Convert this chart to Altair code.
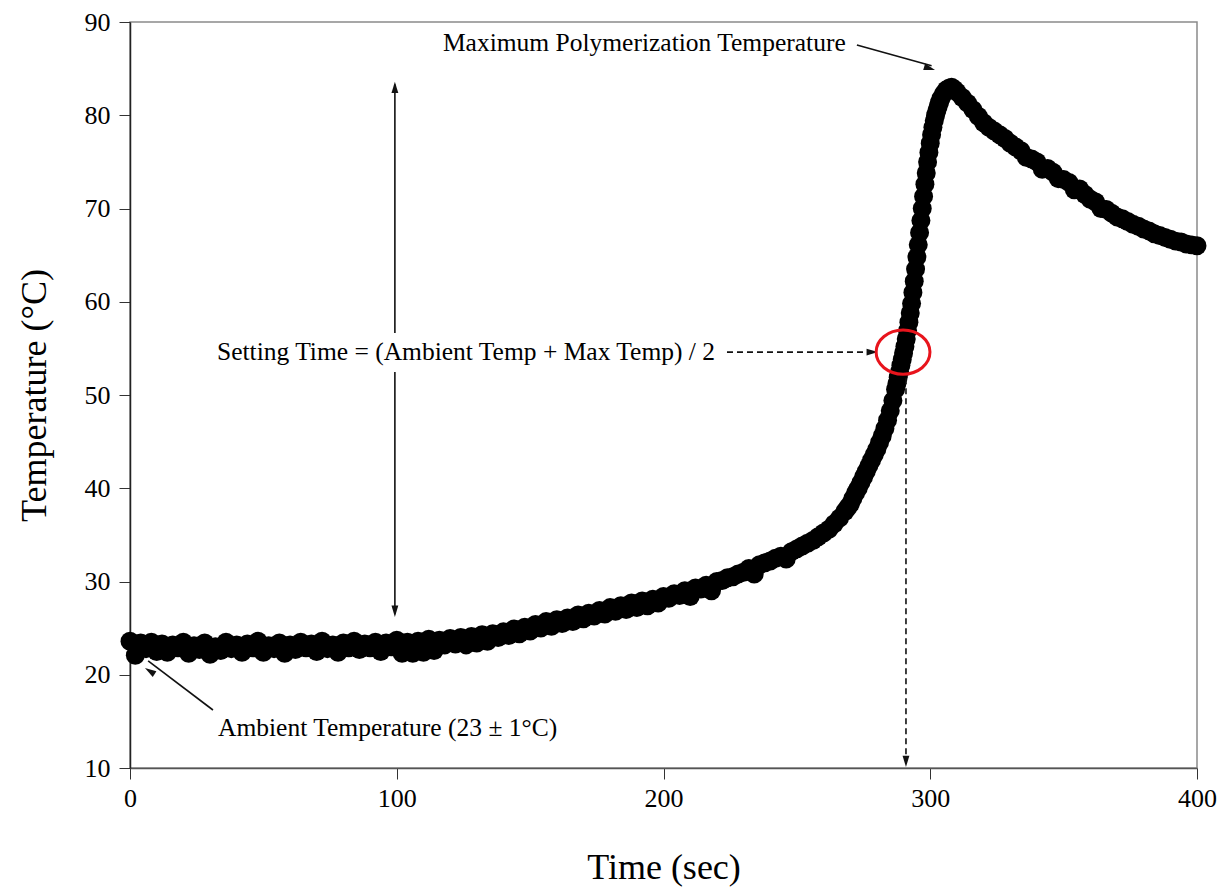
import altair as alt
import pandas as pd

# ---------------- data ----------------
TIME_A = list(range(0, 101, 2))
TEMP_A = [23.6, 22.1, 23.4, 22.8, 23.5, 22.5, 23.3, 22.4, 23.2, 22.9,
          23.5, 22.3, 23.1, 22.7, 23.4, 22.2, 23.0, 22.6, 23.5, 22.8,
          23.2, 22.4, 23.3, 22.9, 23.6, 22.4, 23.1, 22.8, 23.4, 22.3,
          23.2, 22.7, 23.5, 22.9, 23.3, 22.5, 23.6, 22.8, 23.2, 22.4,
          23.4, 22.9, 23.6, 22.7, 23.3, 22.9, 23.5, 22.5, 23.4, 23.0,
          23.7]
TIME_B = list(range(102, 141, 2))
TEMP_B = [22.3, 23.5, 22.3, 23.6, 22.4, 23.8, 22.6, 23.7, 23.2, 23.9,
          23.3, 24.0, 23.2, 24.1, 23.4, 24.3, 23.6, 24.4, 24.0, 24.6]
TIME_C = list(range(142, 201, 2))
TEMP_C = [24.2, 24.9, 24.4, 25.1, 24.7, 25.4, 25.0, 25.7, 25.2, 25.9,
          25.5, 26.1, 25.7, 26.4, 26.0, 26.6, 26.3, 26.9, 26.5, 27.2,
          26.8, 27.4, 27.0, 27.7, 27.2, 27.9, 27.4, 28.1, 27.7, 28.4]
TIME_D = list(range(202, 251, 2))
TEMP_D = [28.2, 28.7, 28.5, 29.0, 28.4, 29.3, 29.2, 29.6, 29.0, 30.0,
          30.1, 30.4, 30.5, 30.8, 31.0, 31.4, 30.8, 31.8, 32.0, 32.2,
          32.5, 32.7, 32.4, 33.2, 33.5]
TIME_E = list(range(252, 269, 2))
TEMP_E = [33.8, 34.1, 34.4, 34.8, 35.2, 35.6, 36.2, 36.8, 37.5]
TIME_F = list(range(269, 311))
TEMP_F = [37.9, 38.3, 38.9, 39.5, 40.0, 40.6, 41.2, 41.8, 42.4, 43.0,
          43.6, 44.2, 44.9, 45.6, 46.4, 47.3, 48.3, 49.4, 50.6, 51.9,
          53.2, 54.5, 56.0, 57.8, 59.8, 62.2, 64.8, 67.4, 70.0, 72.6,
          75.0, 77.0, 78.7, 80.0, 81.0, 81.8, 82.3, 82.7, 82.9, 83.0,
          82.8, 82.5]
TIME_H = [287.5, 288.5, 289.5, 290.5, 291.5, 292.5, 293.5, 294.5, 295.5,
          296.5, 297.5, 298.5, 299.5, 300.5, 301.5, 302.5, 303.5]
TEMP_H = [51.2, 52.5, 53.8, 55.2, 56.9, 58.8, 61.0, 63.5, 66.1,
          68.7, 71.3, 73.8, 76.0, 77.9, 79.4, 80.5, 81.4]
TIME_G = list(range(312, 401, 2))
TEMP_G = [81.9, 81.3, 80.6, 79.9, 79.2, 78.7, 78.3, 77.9, 77.5, 77.0,
          76.6, 76.2, 75.5, 75.3, 75.0, 74.2, 74.3, 73.9, 73.2, 73.1,
          72.8, 72.0, 72.1, 71.5, 71.0, 70.7, 70.0, 69.9, 69.5, 69.1,
          68.9, 68.6, 68.3, 68.1, 67.8, 67.6, 67.3, 67.1, 66.9, 66.7,
          66.5, 66.4, 66.2, 66.1, 66.0]

X_TICKS = [0, 100, 200, 300, 400]
Y_TICKS = [10, 20, 30, 40, 50, 60, 70, 80, 90]

ANN_TEXT = ["Maximum Polymerization Temperature",
            "Setting Time = (Ambient Temp + Max Temp) / 2",
            "Ambient Temperature (23 \u00b1 1\u00b0C)"]
ANN_X = [117.3, 32.6, 33.0]
ANN_Y = [87.75, 54.6, 14.3]

# solid arrow shafts
SOLID_X = [272.5, 99.3, 99.3, 31.1]
SOLID_Y = [87.53, 83.3, 52.47, 16.22]
SOLID_X2 = [300.5, 99.3, 99.3, 6.8]
SOLID_Y2 = [85.3, 56.65, 26.5, 21.5]
# dashed arrow shafts
DASH_X = [223.8, 290.9]
DASH_Y = [54.6, 51.8]
DASH_X2 = [279.0, 290.9]
DASH_Y2 = [54.6, 11.0]
# arrow heads (tip position and direction, degrees clockwise from up)
HEAD_X = [301.8, 99.3, 99.3, 5.6, 280.4, 290.9]
HEAD_Y = [84.85, 83.6, 26.2, 20.72, 54.6, 10.1]
HEAD_ANGLE = [107, 0, 180, 302, 90, 180]
# circle around setting point
RING_X = [289.8]
RING_Y = [54.6]

# ---------------- build ----------------
curve = pd.DataFrame({
    "time": TIME_A + TIME_B + TIME_C + TIME_D + TIME_E + TIME_F + TIME_H + TIME_G,
    "temp": TEMP_A + TEMP_B + TEMP_C + TEMP_D + TEMP_E + TEMP_F + TEMP_H + TEMP_G,
})

FONT = "Liberation Serif"
W, H = 1067, 746

xs = alt.Scale(domain=[0, 400], nice=False, zero=False)
ys = alt.Scale(domain=[10, 90], nice=False, zero=False)

x_axis = alt.Axis(values=X_TICKS, title="Time (sec)", grid=False,
                  labelFont=FONT, labelFontSize=26, labelColor="black",
                  titleFont=FONT, titleFontSize=36, titleFontWeight="normal",
                  titleColor="black", tickSize=11, tickColor="#333333",
                  domainColor="#555555", domainWidth=1.5, labelPadding=6,
                  titleY=99, titleBaseline="middle", labelFlush=False)
y_axis = alt.Axis(values=Y_TICKS, title="Temperature (\u00b0C)", grid=False,
                  labelFont=FONT, labelFontSize=26, labelColor="black",
                  titleFont=FONT, titleFontSize=36, titleFontWeight="normal",
                  titleColor="black", tickSize=11, tickColor="#333333",
                  domainColor="#222222", domainWidth=1.5, labelPadding=9,
                  titleX=-96, titleBaseline="middle", labelFlush=False)

points = alt.Chart(curve).mark_point(
    filled=True, shape="circle", size=360, color="black", opacity=1, clip=False
).encode(
    x=alt.X("time:Q", scale=xs, axis=x_axis),
    y=alt.Y("temp:Q", scale=ys, axis=y_axis),
)

solid = alt.Chart(pd.DataFrame({"x": SOLID_X, "y": SOLID_Y,
                                "x2": SOLID_X2, "y2": SOLID_Y2})).mark_rule(
    color="#111111", strokeWidth=1.6
).encode(x=alt.X("x:Q", scale=xs), y=alt.Y("y:Q", scale=ys), x2="x2:Q", y2="y2:Q")

dashed = alt.Chart(pd.DataFrame({"x": DASH_X, "y": DASH_Y,
                                 "x2": DASH_X2, "y2": DASH_Y2})).mark_rule(
    color="#111111", strokeWidth=1.6, strokeDash=[6, 4]
).encode(x=alt.X("x:Q", scale=xs), y=alt.Y("y:Q", scale=ys), x2="x2:Q", y2="y2:Q")

HEAD_PATH = "M 0 0 L -0.45 1.5 L 0.45 1.5 Z"
heads = alt.Chart(pd.DataFrame({"x": HEAD_X, "y": HEAD_Y, "a": HEAD_ANGLE})).mark_point(
    shape=HEAD_PATH, filled=True, color="#111111", opacity=1, size=230
).encode(x=alt.X("x:Q", scale=xs), y=alt.Y("y:Q", scale=ys),
         angle=alt.Angle("a:Q", scale=None))

RING_PATH = "M -1 0 A 1 0.82 0 1 1 1 0 A 1 0.82 0 1 1 -1 0 Z"
ring = alt.Chart(pd.DataFrame({"x": RING_X, "y": RING_Y})).mark_point(
    shape=RING_PATH, filled=False, color="#e8141c", strokeWidth=3, opacity=1, size=2900
).encode(x=alt.X("x:Q", scale=xs), y=alt.Y("y:Q", scale=ys))

labels = alt.Chart(pd.DataFrame({"t": ANN_TEXT, "x": ANN_X, "y": ANN_Y})).mark_text(
    align="left", baseline="middle", font=FONT, fontSize=25.5, color="black"
).encode(x=alt.X("x:Q", scale=xs), y=alt.Y("y:Q", scale=ys), text="t:N")

chart = alt.layer(points, solid, dashed, heads, ring, labels).properties(
    width=W, height=H,
    padding={"left": 130, "top": 22, "right": 28, "bottom": 125},
    autosize=alt.AutoSizeParams(type="none"),
    background="white",
).configure_view(stroke="#8a8a8a", strokeWidth=1.5)

chart.save("out.html", embed_options={"renderer": "svg", "actions": False})
